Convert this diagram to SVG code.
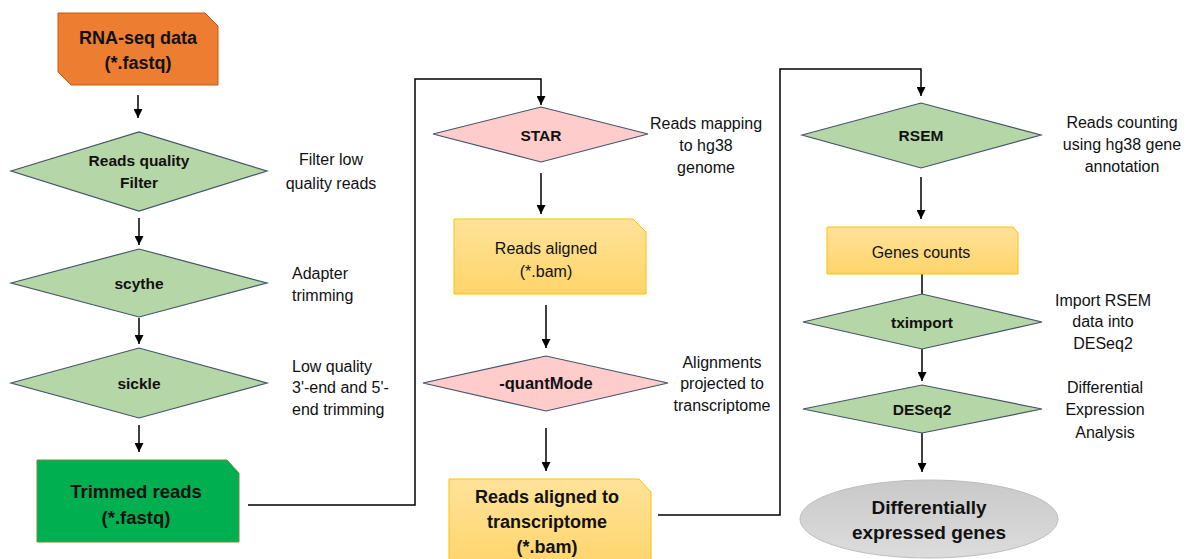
<svg xmlns="http://www.w3.org/2000/svg" width="1189" height="559" viewBox="0 0 1189 559">
<defs>
<marker id="arr" viewBox="0 0 10 10" refX="10" refY="5" markerWidth="9" markerHeight="9" markerUnits="userSpaceOnUse" orient="auto">
<path d="M0,0 L10,5 L0,10 z" fill="#000"/>
</marker>
<linearGradient id="yel" x1="0" y1="0" x2="0" y2="1">
<stop offset="0" stop-color="#FFE39A"/>
<stop offset="1" stop-color="#FFD46A"/>
</linearGradient>
<linearGradient id="gry" x1="0" y1="0" x2="0" y2="1">
<stop offset="0" stop-color="#C9C9C9"/>
<stop offset="1" stop-color="#DCDCDC"/>
</linearGradient>
<style>
text{font-family:"Liberation Sans",Arial,sans-serif;fill:#111;}
.b{font-weight:bold;text-anchor:middle;}
.n{font-size:16px;}
.c{text-anchor:middle;}
.dg{fill:#B5D6A7;stroke:#44546A;stroke-width:1.2;}
.dp{fill:#FFCCCC;stroke:#44546A;stroke-width:1.2;}
.y{fill:url(#yel);stroke:#FFC000;stroke-width:1;}
.ln{fill:none;stroke:#000;stroke-width:1.5;}
</style>
</defs>

<g id="connectors">
<line class="ln" x1="138" y1="95" x2="138" y2="118" marker-end="url(#arr)"/>
<line class="ln" x1="139" y1="218" x2="139" y2="245" marker-end="url(#arr)"/>
<line class="ln" x1="139" y1="318" x2="139" y2="344" marker-end="url(#arr)"/>
<line class="ln" x1="139" y1="425" x2="139" y2="452" marker-end="url(#arr)"/>
<polyline class="ln" points="248,505 415,505 415,79 541,79 541,105" marker-end="url(#arr)"/>
<line class="ln" x1="541" y1="173" x2="541" y2="214" marker-end="url(#arr)"/>
<line class="ln" x1="546" y1="305" x2="546" y2="348" marker-end="url(#arr)"/>
<line class="ln" x1="546" y1="428" x2="546" y2="471" marker-end="url(#arr)"/>
<polyline class="ln" points="658,515 780,515 780,69 921,69 921,96" marker-end="url(#arr)"/>
<line class="ln" x1="921" y1="177" x2="921" y2="219" marker-end="url(#arr)"/>
<line class="ln" x1="922" y1="274" x2="922" y2="294"/>
<line class="ln" x1="922" y1="349" x2="922" y2="381" marker-end="url(#arr)"/>
<line class="ln" x1="922" y1="433" x2="922" y2="472" marker-end="url(#arr)"/>
</g>

<g id="rnaseq">
<polygon points="58,13 205,13 218,26 218,85 71,85 58,72" fill="#ED7D31" stroke="#C55A11" stroke-width="1"/>
<text class="b" x="138" y="44" font-size="18">RNA-seq data</text>
<text class="b" x="138" y="69" font-size="18">(*.fastq)</text>
</g>

<g id="quality">
<polygon class="dg" points="11,171 139,132 267,171 139,211"/>
<text class="b" x="139" y="166" font-size="15.5">Reads quality</text>
<text class="b" x="139" y="188" font-size="15.5">Filter</text>
<text class="n c" x="331" y="165">Filter low</text>
<text class="n c" x="331" y="189">quality reads</text>
</g>

<g id="scythe">
<polygon class="dg" points="11,283 139,249 267,283 139,317"/>
<text class="b" x="139" y="289" font-size="15.5">scythe</text>
<text class="n" x="292" y="279">Adapter</text>
<text class="n" x="292" y="301">trimming</text>
</g>

<g id="sickle">
<polygon class="dg" points="11,383 139,348 267,383 139,418"/>
<text class="b" x="139" y="389" font-size="15.5">sickle</text>
<text class="n" x="292" y="372">Low quality</text>
<text class="n" x="292" y="393">3'-end and 5'-</text>
<text class="n" x="292" y="415">end trimming</text>
</g>

<g id="trimmed">
<polygon points="37,460 227,460 239,473 239,542 37,542" fill="#00B050" stroke="#6B8E3E" stroke-width="1"/>
<text class="b" x="136" y="498" font-size="18.5">Trimmed reads</text>
<text class="b" x="136" y="524" font-size="18.5">(*.fastq)</text>
</g>

<g id="star">
<polygon class="dp" points="433,134 541,107 648,134 541,162"/>
<text class="b" x="541" y="141" font-size="15.5">STAR</text>
<text class="n c" x="706" y="129">Reads mapping</text>
<text class="n c" x="706" y="151">to hg38</text>
<text class="n c" x="706" y="173">genome</text>
</g>

<g id="aligned">
<polygon class="y" points="454,219 633,219 646,232 646,294 454,294"/>
<text class="n c" x="546" y="254">Reads aligned</text>
<text class="n c" x="546" y="277">(*.bam)</text>
</g>

<g id="quantmode">
<polygon class="dp" points="423,383 546,356 668,383 546,411"/>
<text class="b" x="546" y="389" font-size="16.5">-quantMode</text>
<text class="n c" x="722" y="368">Alignments</text>
<text class="n c" x="722" y="389">projected to</text>
<text class="n c" x="722" y="411">transcriptome</text>
</g>

<g id="transcriptome">
<polygon class="y" points="449,479 639,479 651,492 651,570 449,570"/>
<text class="b" x="547" y="503" font-size="18">Reads aligned to</text>
<text class="b" x="547" y="528" font-size="18">transcriptome</text>
<text class="b" x="547" y="553" font-size="18">(*.bam)</text>
</g>

<g id="rsem">
<polygon class="dg" points="802,135 921,103 1041,135 921,168"/>
<text class="b" x="921" y="141" font-size="15.5">RSEM</text>
<text class="n c" x="1122" y="128">Reads counting</text>
<text class="n c" x="1122" y="150">using hg38 gene</text>
<text class="n c" x="1122" y="172">annotation</text>
</g>

<g id="genecounts">
<polygon class="y" points="827,227 1013,227 1018,233 1018,274 827,274"/>
<text class="n c" x="921" y="258">Genes counts</text>
</g>

<g id="tximport">
<polygon class="dg" points="803,322 922,294 1042,322 922,349"/>
<text class="b" x="922" y="328" font-size="15.5">tximport</text>
<text class="n c" x="1103" y="306">Import RSEM</text>
<text class="n c" x="1103" y="327">data into</text>
<text class="n c" x="1103" y="349">DESeq2</text>
</g>

<g id="deseq2">
<polygon class="dg" points="803,409 922,385 1042,409 922,433"/>
<text class="b" x="922" y="415" font-size="15.5">DESeq2</text>
<text class="n c" x="1105" y="393">Differential</text>
<text class="n c" x="1105" y="415">Expression</text>
<text class="n c" x="1105" y="438">Analysis</text>
</g>

<g id="degenes">
<ellipse cx="929" cy="519" rx="129" ry="39" fill="url(#gry)" stroke="#BDBDBD" stroke-width="1"/>
<text class="b" x="929" y="514" font-size="19">Differentially</text>
<text class="b" x="929" y="539" font-size="19">expressed genes</text>
</g>
</svg>
